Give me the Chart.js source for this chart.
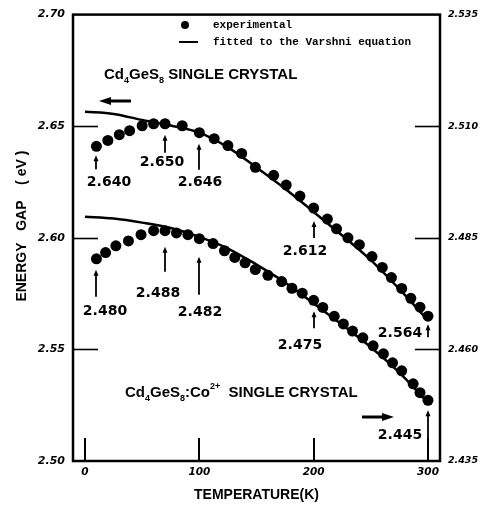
<!DOCTYPE html>
<html>
<head>
<meta charset="utf-8">
<script src="https://cdn.jsdelivr.net/npm/chart.js@4.4.1/dist/chart.umd.min.js"></script>
<style>
html,body{margin:0;padding:0;background:#fff;}
#wrap{width:494px;height:507px;position:relative;}
</style>
</head>
<body>
<div id="wrap"><canvas id="c" width="494" height="507"></canvas></div>
<script>
// ---- data ----
const upperT = [10,20,30,39,50,60,70,85,100,113,125,137,149,165,176,188,200,212,220,230,240,251,260,268,277,285,293,300];
const upperE = [2.641,2.6436,2.6462,2.648,2.6502,2.6511,2.6511,2.6502,2.6471,2.6444,2.6413,2.6378,2.6316,2.628,2.6236,2.6187,2.6133,2.6084,2.604,2.600,2.5969,2.5916,2.5867,2.5822,2.5773,2.5729,2.5689,2.5649];
const upperFitT = [0,25,50,75,100,125,150,175,200,225,250,275,300];
const upperFitE = [2.6565,2.6555,2.6528,2.6503,2.6471,2.6405,2.6315,2.6220,2.6116,2.6010,2.5900,2.5770,2.5630];

const lowerT = [10,18,27,38,49,60,70,80,90,100,112,122,131,140,149,160,172,181,190,200,208,218,226,234,243,252,261,269,277,287,293,300];
const lowerE = [2.4803,2.4817,2.4832,2.4843,2.4857,2.4866,2.4866,2.4861,2.4857,2.4848,2.4837,2.4821,2.4806,2.4794,2.4779,2.4766,2.4752,2.4737,2.4726,2.4710,2.4694,2.4674,2.4657,2.4641,2.4626,2.4608,2.4590,2.4570,2.4552,2.4523,2.4503,2.4486];
const lowerFitT = [0,25,50,75,100,125,150,175,200,225,250,275,300];
const lowerFitE = [2.4897,2.4893,2.4884,2.4872,2.4852,2.4826,2.4790,2.4750,2.4703,2.4655,2.4605,2.4548,2.4480];

const xTicks = [0,100,200,300];
const leftTicks = [2.50,2.55,2.60,2.65,2.70];
const leftTickLabels = ['2.50','2.55','2.60','2.65','2.70'];
const rightTicks = [2.435,2.460,2.485,2.510,2.535];
const rightTickLabels = ['2.435','2.460','2.485','2.510','2.535'];

const upperNoteT = [10,70,100,200,300];
const upperNoteLabels = ['2.640','2.650','2.646','2.612','2.564'];
const lowerNoteT = [10,70,100,200,300];
const lowerNoteLabels = ['2.480','2.488','2.482','2.475','2.445'];

const legendLabels = ['experimental','fitted to the Varshni equation'];
const xTitle = 'TEMPERATURE(K)';
const yTitle = '      ENERGY   GAP    ( eV )';

// ---- build datasets ----
const pts = (xs, ys) => xs.map((x, i) => ({x: x, y: ys[i]}));

const frameAndNotes = {
  id: 'frameAndNotes',
  afterDraw(chart) {
    const ctx = chart.ctx;
    const a = chart.chartArea;
    const sx = chart.scales.x, sl = chart.scales.yL, sr = chart.scales.yR;
    ctx.save();
    ctx.strokeStyle = '#000';
    ctx.fillStyle = '#000';
    // frame
    ctx.lineWidth = 2.5;
    ctx.strokeRect(a.left, a.top, a.right - a.left, a.bottom - a.top);
    // inner ticks
    ctx.lineWidth = 1.6;
    leftTicks.slice(1, -1).forEach(v => {
      const y = Math.round(sl.getPixelForValue(v)) + 0.5;
      ctx.beginPath(); ctx.moveTo(a.left, y); ctx.lineTo(a.left + 25, y); ctx.stroke();
    });
    rightTicks.slice(1, -1).forEach(v => {
      const y = Math.round(sr.getPixelForValue(v)) + 0.5;
      ctx.beginPath(); ctx.moveTo(a.right - 25, y); ctx.lineTo(a.right, y); ctx.stroke();
    });
    ctx.lineWidth = 2;
    xTicks.forEach(v => {
      const x = Math.round(sx.getPixelForValue(v));
      ctx.beginPath(); ctx.moveTo(x, a.bottom); ctx.lineTo(x, a.bottom - 23); ctx.stroke();
    });

    // legend
    ctx.font = 'bold 11px "Liberation Mono", "DejaVu Sans Mono", monospace';
    ctx.textBaseline = 'middle';
    ctx.textAlign = 'left';
    ctx.beginPath(); ctx.arc(185, 25, 4, 0, Math.PI * 2); ctx.fill();
    ctx.fillText(legendLabels[0], 213, 25);
    ctx.lineWidth = 2;
    ctx.beginPath(); ctx.moveTo(179, 42); ctx.lineTo(198, 42); ctx.stroke();
    ctx.fillText(legendLabels[1], 213, 42);

    // rich titles
    function rich(parts, x, y, size) {
      let cx = x;
      parts.forEach(p => {
        const s = p.sub || p.sup ? Math.round(size * 0.62) : size;
        ctx.font = 'bold ' + s + 'px "Liberation Sans", Arial, sans-serif';
        const dy = p.sub ? size * 0.35 : (p.sup ? -size * 0.45 : 0);
        ctx.fillText(p.t, cx, y + dy);
        cx += ctx.measureText(p.t).width;
      });
    }
    ctx.textBaseline = 'middle';
    rich([{t:'Cd'},{t:'4',sub:1},{t:'GeS'},{t:'8',sub:1},{t:' SINGLE CRYSTAL'}], 104, 75, 15);
    rich([{t:'Cd'},{t:'4',sub:1},{t:'GeS'},{t:'8',sub:1},{t:':Co'},{t:'2+',sup:1},{t:'  SINGLE CRYSTAL'}], 125, 393, 15);

    // big arrows
    function hArrow(x1, x2, y) {
      const dir = Math.sign(x2 - x1);
      ctx.lineWidth = 3;
      ctx.beginPath(); ctx.moveTo(x1, y); ctx.lineTo(x2 - dir * 10, y); ctx.stroke();
      ctx.beginPath(); ctx.moveTo(x2, y); ctx.lineTo(x2 - dir * 12, y - 4); ctx.lineTo(x2 - dir * 12, y + 4); ctx.closePath(); ctx.fill();
    }
    hArrow(131, 99, 101);
    hArrow(362, 394, 417);

    // notes with small up arrows
    function vArrow(x, yHead, yTail) {
      ctx.lineWidth = 1.8;
      ctx.beginPath(); ctx.moveTo(x, yTail); ctx.lineTo(x, yHead + 4); ctx.stroke();
      ctx.beginPath(); ctx.moveTo(x, yHead); ctx.lineTo(x - 2.5, yHead + 6); ctx.lineTo(x + 2.5, yHead + 6); ctx.closePath(); ctx.fill();
    }
    // offsets: [arrow head, arrow tail, label dx, label dy] relative to the dot
    const upOff = [[9,23,13,36],[11,29,-3,39],[11,37,1,50],[13,30,-9,43],[8,21,-28,17]];
    const loOff = [[11,38,9,53],[16,41,-7,63],[18,56,1,74],[11,28,-14,45],[10,42,-28,35]];
    ctx.textAlign = 'center';
    function notes(Ts, labels, Tarr, Earr, scale, off) {
      Ts.forEach((T, i) => {
        const k = Tarr.indexOf(T);
        const x = Math.round(sx.getPixelForValue(T));
        const y = scale.getPixelForValue(Earr[k]);
        const o = off[i];
        vArrow(x, y + o[0], y + o[1]);
        ctx.font = 'bold 14px "DejaVu Sans", sans-serif';
        ctx.fillText(labels[i], x + o[2], y + o[3]);
      });
    }
    notes(upperNoteT, upperNoteLabels, upperT, upperE, sl, upOff);
    notes(lowerNoteT, lowerNoteLabels, lowerT, lowerE, sr, loOff);
    ctx.restore();
  }
};

const tickFontL = {family: '"DejaVu Sans", sans-serif', size: 11, weight: 'bold', style: 'italic'};
const tickFontR = {family: '"DejaVu Sans", sans-serif', size: 9.5, weight: 'bold', style: 'italic'};

new Chart(document.getElementById('c'), {
  type: 'scatter',
  data: {
    datasets: [
      {label: legendLabels[0], data: pts(upperT, upperE), yAxisID: 'yL', pointRadius: 5.5, pointBackgroundColor: '#000', pointBorderWidth: 0, showLine: false},
      {label: legendLabels[1], data: pts(upperFitT, upperFitE), yAxisID: 'yL', pointRadius: 0, showLine: true, borderColor: '#000', borderWidth: 2.5, cubicInterpolationMode: 'monotone'},
      {label: legendLabels[0], data: pts(lowerT, lowerE), yAxisID: 'yR', pointRadius: 5.5, pointBackgroundColor: '#000', pointBorderWidth: 0, showLine: false},
      {label: legendLabels[1], data: pts(lowerFitT, lowerFitE), yAxisID: 'yR', pointRadius: 0, showLine: true, borderColor: '#000', borderWidth: 2.5, cubicInterpolationMode: 'monotone'}
    ]
  },
  options: {
    responsive: false,
    animation: false,
    devicePixelRatio: 1,
    layout: {padding: {top: 11, left: 0, right: 0, bottom: 0}},
    plugins: {legend: {display: false}, tooltip: {enabled: false}},
    scales: {
      x: {
        type: 'linear', min: -10.5, max: 310.5,
        grid: {display: false, drawTicks: false},
        border: {display: false},
        afterBuildTicks: s => { s.ticks = xTicks.map(v => ({value: v})); },
        ticks: {color: '#000', font: {family: '"DejaVu Sans", sans-serif', size: 10.5, weight: 'bold', style: 'italic'}, padding: 5, maxRotation: 0, callback: v => String(v)},
        title: {display: true, text: xTitle, color: '#000', font: {family: '"Liberation Sans", Arial, sans-serif', size: 14, weight: 'bold'}, padding: {top: 0, bottom: 3}},
        afterFit: s => { s.height = 46; }
      },
      yL: {
        type: 'linear', position: 'left', min: 2.50, max: 2.70,
        grid: {display: false, drawTicks: false},
        border: {display: false},
        afterBuildTicks: s => { s.ticks = leftTicks.map(v => ({value: v})); },
        ticks: {color: '#000', font: tickFontL, padding: 8, callback: (v, i) => leftTickLabels[i]},
        title: {display: true, text: yTitle, color: '#000', font: {family: '"Liberation Sans", Arial, sans-serif', size: 14, weight: 'bold'}, padding: {top: 14, bottom: 0}},
        afterFit: s => { s.width = 73; }
      },
      yR: {
        type: 'linear', position: 'right', min: 2.435, max: 2.535,
        grid: {display: false, drawTicks: false},
        border: {display: false},
        afterBuildTicks: s => { s.ticks = rightTicks.map(v => ({value: v})); },
        ticks: {color: '#000', font: tickFontR, padding: 8, callback: (v, i) => rightTickLabels[i]},
        afterFit: s => { s.width = 54; }
      }
    }
  },
  plugins: [frameAndNotes]
});
</script>
</body>
</html>
